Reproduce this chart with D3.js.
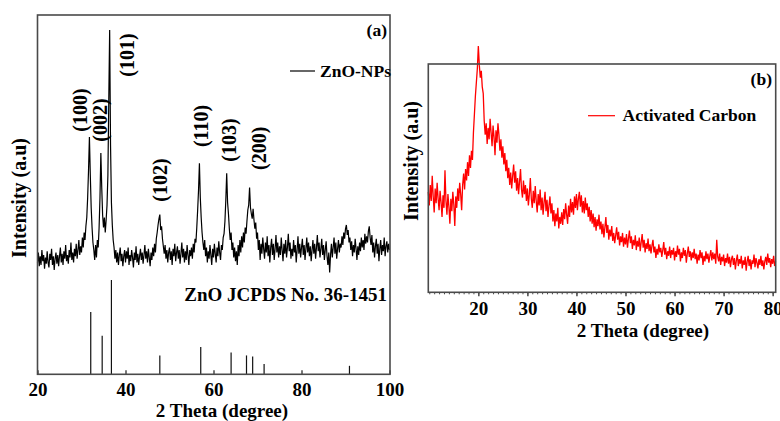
<!DOCTYPE html>
<html>
<head>
<meta charset="utf-8">
<script src="https://cdn.jsdelivr.net/npm/d3@7"></script>
<style>
  html, body { margin: 0; padding: 0; background: #fff; }
  svg { display: block; }
  text { font-family: "Liberation Serif", "Times New Roman", serif; font-weight: bold; fill: #000; }
</style>
</head>
<body>
<svg id="chart" width="780" height="421"></svg>
<script>
// ---- ZnO nanoparticles: 2θ scan from 20° to 100°, 0.2° step ----
const znoStart = 20, znoStep = 0.2;
const znoIntensity = [
  70,110,55,95,60, 120,75,100,45,90, 65,115,70,50,105, 80,125,60,95,40, 85,110,65,100,55,
  95,130,70,105,60, 115,85,140,75,100, 65,120,90,150,80, 110,70,125,95,145, 85,120,160,100,135,
  110,170,130,190,160, 215,250,330,440,572, 420,290,210,150,120, 80,140,90,160,130, 210,330,508,370,260,
  210,250,190,240,300, 420,720,1000,540,310, 220,160,130,85,120, 70,110,60,100,130, 75,105,55,95,120,
  70,115,85,130,60, 100,75,120,90,50, 110,80,135,70,105, 60,95,125,80,110, 65,100,140,85,115,
  70,125,90,55,110, 80,130,95,145,110, 165,190,220,245,262, 200,215,165,135,105, 140,85,120,70,110,
  130,80,115,60,125, 95,145,75,110,135, 85,120,65,105,150, 90,125,70,115,80, 140,100,60,120,95,
  130,85,145,110,165, 150,210,280,360,467, 330,250,190,150,120, 160,95,130,70,115, 85,140,100,60,125,
  90,145,105,70,130, 95,155,110,80,140, 120,170,185,235,320, 427,310,265,205,160, 190,120,150,90,130,
  75,115,60,140,95, 160,110,175,130,190, 150,210,185,235,280, 300,370,290,265,245, 285,240,205,230,165,
  190,120,160,80,145, 105,170,125,85,150, 110,175,95,140,70, 130,165,100,145,80, 125,180,110,150,90,
  135,100,170,120,75, 145,105,160,90,130, 185,115,150,85,125, 95,160,110,140,70, 120,175,105,145,90,
  130,165,100,140,80, 125,170,110,150,95, 135,75,120,160,105, 145,85,130,180,115, 150,90,125,165,100,
  140,80,120,155,95, 60,110,30,100,145, 90,130,170,105,150, 85,125,160,110,145, 130,175,140,190,165,
  205,220,180,200,150, 170,120,155,95,140, 110,165,125,80,135, 100,150,115,170,130, 160,120,185,145,175,
  150,195,215,170,140, 180,110,150,90,135, 165,105,145,75,125, 160,100,140,115,170, 95,135,155,110,145,
  120
];

// ---- Standard ZnO pattern, JCPDS No. 36-1451 ----
const jcpdsTheta = [32.1, 34.7, 36.8, 47.8, 57.1, 64.0, 67.5, 68.9, 71.5, 90.9];
const jcpdsIntensity = [66, 41, 100, 20, 29, 23, 20, 19, 11, 9];

// ---- Miller index annotations (text, 2θ, intensity level of the label centre) ----
const millerLabels = ["(100)", "(002)", "(101)", "(102)", "(110)", "(103)", "(200)"];
const millerTheta  = [29.55, 34.2, 40.4, 47.95, 57.05, 63.6, 70.27];
const millerLevel  = [680, 640, 900, 400, 616, 560, 527];

// ---- Activated carbon: 2θ scan from 9.8° to 80.6°, 0.2° step ----
const acStart = 9.8, acStep = 0.2;
const acIntensity = [
  440,380,470,400,510, 420,350,455,390,480, 410,360,445,395,330, 425,370,535,400,340, 430,375,300,410,355,
  440,385,290,420,370, 455,400,480,430,360, 470,520,450,540,490, 570,510,600,545,620, 580,700,780,860,920,
  980,1079,995,940,970, 900,870,750,690,740, 650,720,670,760,700, 640,730,680,600,710, 655,740,690,620,670,
  590,640,560,610,530, 580,500,545,470,525, 455,510,560,480,530, 445,500,430,485,540, 450,415,490,430,470,
  400,455,380,430,500, 410,370,445,390,465, 400,350,430,380,450, 360,415,340,395,440, 355,405,330,380,420,
  345,390,310,360,290, 345,310,370,280,330, 300,350,295,365,320, 390,340,300,380,330, 410,350,395,340,420,
  370,430,360,410,440, 375,425,350,400,345, 415,360,390,330,375, 310,360,300,345,285, 330,270,320,290,340,
  275,310,255,300,240, 285,330,260,295,230, 275,245,290,225,260, 215,250,285,230,265, 205,245,220,260,200,
  240,210,255,195,235, 270,215,245,190,230, 205,250,185,225,200, 240,180,220,255,195, 230,175,215,190,235,
  180,210,170,205,230, 175,200,150,190,165, 210,175,195,155,185, 220,165,195,145,180, 160,200,150,185,165,
  195,140,180,155,205, 165,190,135,175,150, 195,160,185,130,170, 200,155,180,140,175, 150,190,145,170,125,
  165,140,185,150,175, 120,160,135,180,145, 170,130,160,185,140, 175,145,170,125,230, 155,135,170,120,155,
  135,165,115,150,130, 170,125,155,110,145, 160,120,150,100,140, 165,115,145,125,160, 105,140,120,155,95,
  135,160,115,145,100, 140,125,165,110,150, 130,105,145,120,160, 115,140,100,135,155, 120,170,130,150,110,
  145,125,160,115,135
];

const ticksA = [20, 40, 60, 80, 100];
const ticksB = [20, 30, 40, 50, 60, 70, 80];
const minorTicksB = d3.range(10, 81, 1);

const svg = d3.select("#chart");
const frameColor = "#4a4a4a";

// ================= Panel (a) =================
const a = { left: 37.5, right: 390, top: 15, bottom: 374.3 };
const xA = d3.scaleLinear().domain([20, 100]).range([37.5, 389.5]);
const yA = d3.scaleLinear().domain([0, 1000]).range([280, 30]);
const yJ = d3.scaleLinear().domain([0, 100]).range([a.bottom, 280]);

const gA = svg.append("g");

// measured pattern
gA.append("path")
  .datum(znoIntensity)
  .attr("fill", "none")
  .attr("stroke", "#000")
  .attr("stroke-width", 1.2)
  .attr("d", d3.line()
    .x((d, i) => xA(znoStart + i * znoStep))
    .y(d => yA(d)));

// standard reference sticks
gA.append("g").selectAll("line")
  .data(jcpdsTheta)
  .join("line")
  .attr("x1", d => xA(d)).attr("x2", d => xA(d))
  .attr("y1", yJ(0))
  .attr("y2", (d, i) => yJ(jcpdsIntensity[i]))
  .attr("stroke", "#111")
  .attr("stroke-width", 1.2);

// frame
gA.append("rect")
  .attr("x", a.left).attr("y", a.top)
  .attr("width", a.right - a.left).attr("height", a.bottom - a.top)
  .attr("fill", "none").attr("stroke", frameColor).attr("stroke-width", 1.6);

// bottom axis (ticks inside)
const axisA = d3.axisBottom(xA).tickValues(ticksA).tickSize(-4).tickPadding(8).tickFormat(d3.format("d"));
const axA = gA.append("g").attr("transform", `translate(0,${a.bottom})`).call(axisA);
axA.select(".domain").remove();
axA.selectAll(".tick line").attr("stroke", frameColor).attr("stroke-width", 1.5);
axA.selectAll(".tick text").attr("font-size", 19).attr("font-family", null).attr("fill", "#000");

gA.append("text")
  .attr("x", 222).attr("y", 417)
  .attr("text-anchor", "middle").attr("font-size", 19)
  .text("2 Theta (degree)");

gA.append("text")
  .attr("transform", "translate(26,198) rotate(-90)")
  .attr("text-anchor", "middle").attr("font-size", 20)
  .text("Intensity (a.u)");

// Miller indices
gA.append("g").selectAll("text")
  .data(millerLabels)
  .join("text")
  .attr("transform", (d, i) => `translate(${xA(millerTheta[i])},${yA(millerLevel[i])}) rotate(-90)`)
  .attr("text-anchor", "middle")
  .attr("dominant-baseline", "central")
  .attr("font-size", 20)
  .text(d => d);

gA.append("text")
  .attr("x", 387).attr("y", 36)
  .attr("text-anchor", "end").attr("font-size", 17.5)
  .text("(a)");

gA.append("line")
  .attr("x1", 290).attr("x2", 315).attr("y1", 71).attr("y2", 71)
  .attr("stroke", "#000").attr("stroke-width", 1.2);
gA.append("text")
  .attr("x", 320).attr("y", 76.5).attr("font-size", 17.5)
  .text("ZnO-NPs");

gA.append("text")
  .attr("x", 387).attr("y", 301)
  .attr("text-anchor", "end").attr("font-size", 19)
  .text("ZnO JCPDS No. 36-1451");

// ================= Panel (b) =================
const b = { left: 428.3, right: 775.7, top: 64, bottom: 292.3 };
const xB = d3.scaleLinear().domain([9.8, 80.6]).range([428.3, 775.6]);
const yB = d3.scaleLinear().domain([0, 1000]).range([b.bottom, b.top]);

const gB = svg.append("g");

gB.append("path")
  .datum(acIntensity)
  .attr("fill", "none")
  .attr("stroke", "#ff0000")
  .attr("stroke-width", 1.3)
  .attr("d", d3.line()
    .x((d, i) => xB(acStart + i * acStep))
    .y(d => yB(d)));

gB.append("rect")
  .attr("x", b.left).attr("y", b.top)
  .attr("width", b.right - b.left).attr("height", b.bottom - b.top)
  .attr("fill", "none").attr("stroke", frameColor).attr("stroke-width", 1.6);

// minor ticks every degree
const axBMinor = gB.append("g").attr("transform", `translate(0,${b.bottom})`)
  .call(d3.axisBottom(xB).tickValues(minorTicksB).tickSize(2).tickFormat(""));
axBMinor.select(".domain").remove();
axBMinor.selectAll(".tick line").attr("stroke", frameColor).attr("stroke-width", 1);

// major ticks
const axB = gB.append("g").attr("transform", `translate(0,${b.bottom})`)
  .call(d3.axisBottom(xB).tickValues(ticksB).tickSize(4).tickPadding(5).tickFormat(d3.format("d")));
axB.select(".domain").remove();
axB.selectAll(".tick line").attr("stroke", frameColor).attr("stroke-width", 1.5);
axB.selectAll(".tick text").attr("font-size", 19).attr("font-family", null).attr("fill", "#000");

gB.append("text")
  .attr("x", 643).attr("y", 337)
  .attr("text-anchor", "middle").attr("font-size", 19)
  .text("2 Theta (degree)");

gB.append("text")
  .attr("transform", "translate(418,161) rotate(-90)")
  .attr("text-anchor", "middle").attr("font-size", 20)
  .text("Intensity (a.u)");

gB.append("text")
  .attr("x", 772).attr("y", 85)
  .attr("text-anchor", "end").attr("font-size", 17.5)
  .text("(b)");

gB.append("line")
  .attr("x1", 588).attr("x2", 615).attr("y1", 115.7).attr("y2", 115.7)
  .attr("stroke", "#ff0000").attr("stroke-width", 1.2);
gB.append("text")
  .attr("x", 622.5).attr("y", 121).attr("font-size", 17.5)
  .text("Activated Carbon");
</script>
</body>
</html>
